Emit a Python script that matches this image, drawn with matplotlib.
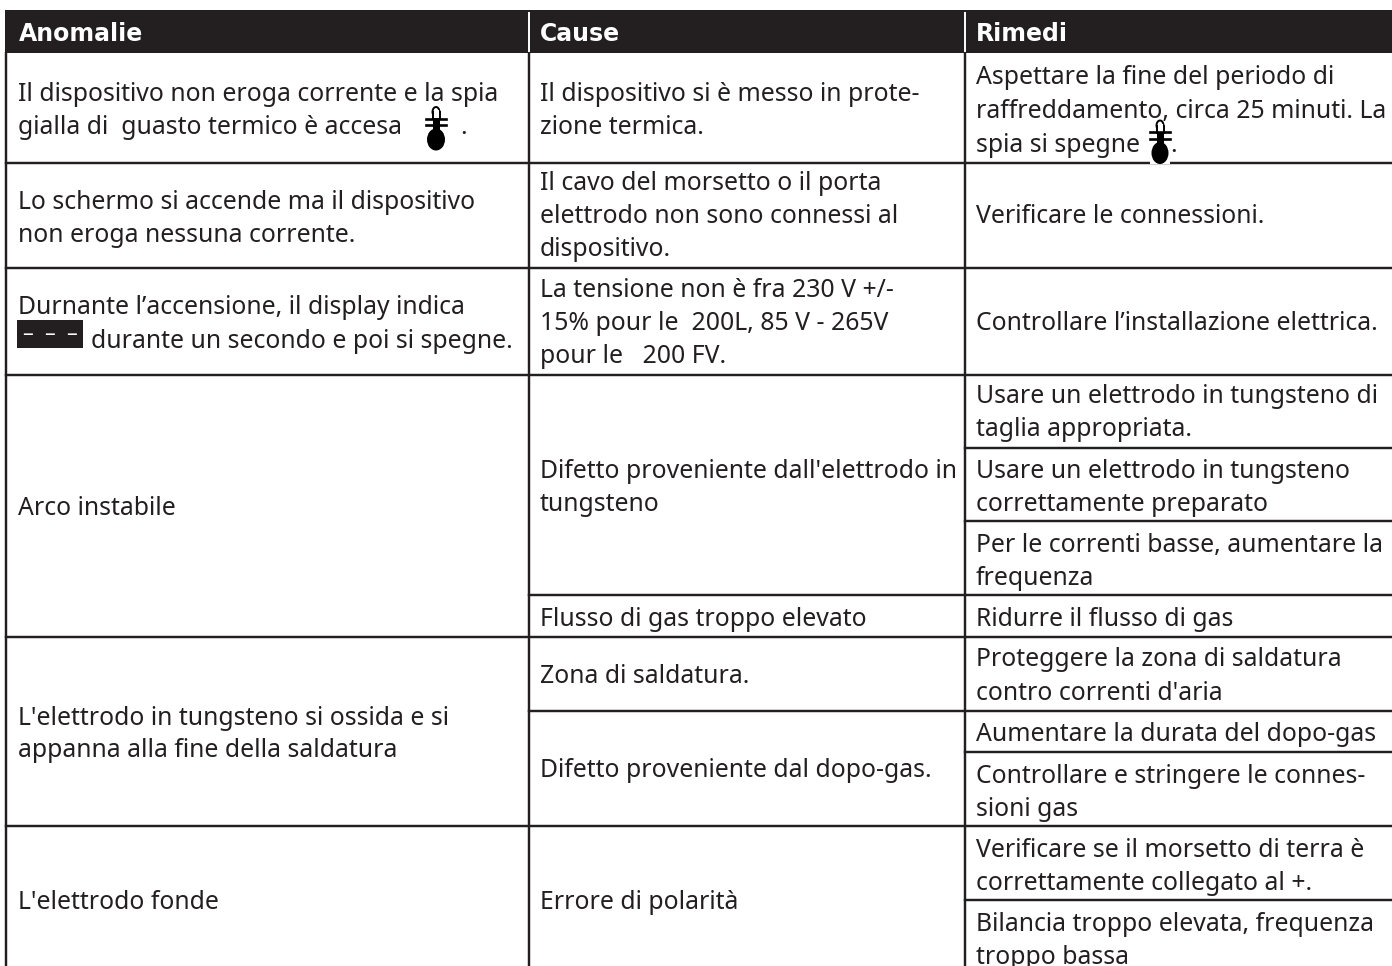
import matplotlib
matplotlib.use("Agg")
import matplotlib.pyplot as plt
from matplotlib.patches import Rectangle, Ellipse

W, H = 1392, 966
INK = "#231f20"
FONT = "Noto Sans"
FS = 17.85
HEAD_FS = 17.0

headers = ["Anomalie", "Cause", "Rimedi"]
header_x = [19, 540, 976]

# (x, baseline of each line, text of each line)
anomalie = [
    (18, [101, 134], ["Il dispositivo non eroga corrente e la spia", "gialla di  guasto termico è accesa"]),
    (18, [209, 242], ["Lo schermo si accende ma il dispositivo", "non eroga nessuna corrente."]),
    (18, [314], ["Durnante l’accensione, il display indica"]),
    (18, [515], ["Arco instabile"]),
    (18, [725, 757], ["L'elettrodo in tungsteno si ossida e si", "appanna alla fine della saldatura"]),
    (18, [909], ["L'elettrodo fonde"]),
]
cause = [
    (540, [101, 134], ["Il dispositivo si è messo in prote-", "zione termica."]),
    (540, [190, 223, 256], ["Il cavo del morsetto o il porta", "elettrodo non sono connessi al", "dispositivo."]),
    (540, [297, 330, 363], ["La tensione non è fra 230 V +/-", "15% pour le  200L, 85 V - 265V", "pour le   200 FV."]),
    (540, [478, 511], ["Difetto proveniente dall'elettrodo in", "tungsteno"]),
    (540, [626], ["Flusso di gas troppo elevato"]),
    (540, [683], ["Zona di saldatura."]),
    (540, [777], ["Difetto proveniente dal dopo-gas."]),
    (540, [909], ["Errore di polarità"]),
]
rimedi = [
    (976, [84, 118, 152], ["Aspettare la fine del periodo di", "raffreddamento, circa 25 minuti. La", "spia si spegne"]),
    (976, [223], ["Verificare le connessioni."]),
    (976, [330], ["Controllare l’installazione elettrica."]),
    (976, [403, 436], ["Usare un elettrodo in tungsteno di", "taglia appropriata."]),
    (976, [478, 511], ["Usare un elettrodo in tungsteno", "correttamente preparato"]),
    (976, [552, 585], ["Per le correnti basse, aumentare la", "frequenza"]),
    (976, [626], ["Ridurre il flusso di gas"]),
    (976, [666, 700], ["Proteggere la zona di saldatura", "contro correnti d'aria"]),
    (976, [741], ["Aumentare la durata del dopo-gas"]),
    (976, [783, 816], ["Controllare e stringere le connes-", "sioni gas"]),
    (976, [857, 890], ["Verificare se il morsetto di terra è", "correttamente collegato al +."]),
    (976, [931, 964], ["Bilancia troppo elevata, frequenza", "troppo bassa"]),
]
display_text = "durante un secondo e poi si spegne."
display_code = "–  –  –"
period = "."

col_x = [6, 528.5, 965]
hlines_all = [162.5, 268, 375, 637, 826]
hlines_mid = [595, 711]
hlines_right = [448, 521, 752, 900]
LW = 1.75

fig = plt.figure(figsize=(W / 100, H / 100), dpi=100, facecolor="white")
ax = fig.add_axes([0, 0, 1, 1])
ax.set_xlim(0, W)
ax.set_ylim(H, 0)
ax.axis("off")

ax.add_patch(Rectangle((5, 9.5), W, 43.5, fc=INK, ec="none"))
for x, t in zip(header_x, headers):
    ax.text(x, 41, t, color="white", fontsize=HEAD_FS, fontweight="bold",
            family="DejaVu Sans", va="baseline")
for x in col_x[1:]:
    ax.plot([x, x], [12, 52], color="white", lw=1.4, solid_capstyle="butt")

for x in col_x:
    ax.plot([x, x], [52, H], color=INK, lw=LW, solid_capstyle="butt")
for y in hlines_all:
    ax.plot([col_x[0], W], [y, y], color=INK, lw=LW)
for y in hlines_mid:
    ax.plot([col_x[1], W], [y, y], color=INK, lw=LW)
for y in hlines_right:
    ax.plot([col_x[2], W], [y, y], color=INK, lw=LW)

for column in (anomalie, cause, rimedi):
    for x, ys, lines in column:
        for y, t in zip(ys, lines):
            ax.text(x, y, t, color=INK, fontsize=FS, family=FONT, va="baseline")

# display code box and its trailing text
ax.add_patch(Rectangle((17, 320), 66, 28, fc=INK, ec="none"))
ax.text(50, 340, display_code, color="white", fontsize=15.5, family=FONT, ha="center", va="baseline")
ax.text(91, 348, display_text, color=INK, fontsize=FS, family=FONT, va="baseline")


def thermometer(cx, top, bulb_w):
    bottom = top + 43
    ax.add_patch(Rectangle((cx - 10, top), 20, 43, fc="white", ec="none", zorder=4))
    ax.add_patch(Ellipse((cx, bottom - 10.5), bulb_w, 22, fc="black", ec="none", zorder=5))
    ax.add_patch(Ellipse((cx, top + 5), 7, 10, fc="white", ec="black", lw=1.4, zorder=5))
    ax.add_patch(Rectangle((cx - 3.5, top + 5), 7, 7, fc="white", ec="black", lw=1.4, zorder=5))
    ax.add_patch(Rectangle((cx - 2.5, top + 3), 5, 6, fc="white", ec="none", zorder=5))
    ax.add_patch(Rectangle((cx - 3.5, top + 11), 7, 16, fc="black", ec="none", zorder=5))
    ax.plot([cx - 10, cx + 10], [top + 11.5, top + 11.5], color="black", lw=1.9, zorder=6)
    ax.plot([cx - 10, cx + 10], [top + 18, top + 18], color="black", lw=1.9, zorder=6)


thermometer(436, 107, 18)
ax.text(460, 134, period, color=INK, fontsize=FS, family=FONT, va="baseline")
thermometer(1160, 120.5, 17)
ax.text(1170, 152, period, color=INK, fontsize=FS, family=FONT, va="baseline", zorder=7)

fig.savefig("out.png", dpi=100, facecolor="white")
